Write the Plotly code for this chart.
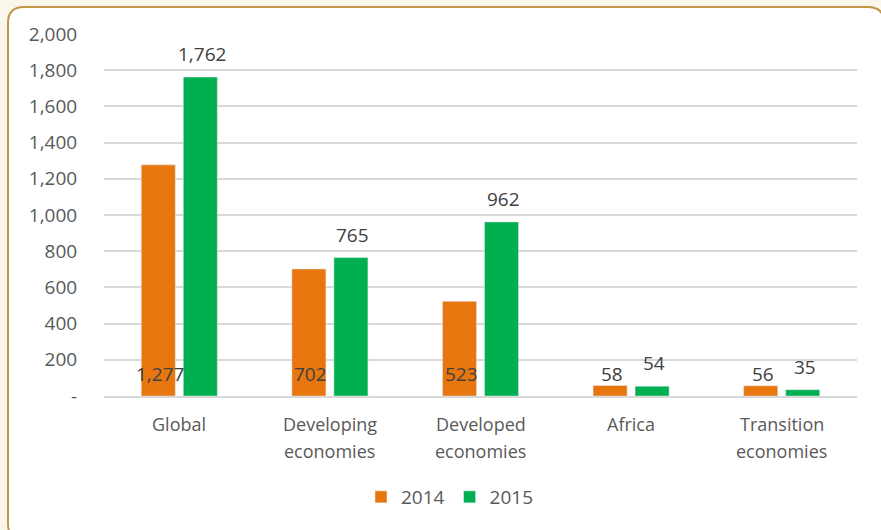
import plotly.graph_objects as go

categories = ["Global", "Developing economies", "Developed economies", "Africa", "Transition economies"]
label_lines = [["Global"], ["Developing", "economies"], ["Developed", "economies"], ["Africa"], ["Transition", "economies"]]
values_2014 = [1277, 702, 523, 58, 56]
values_2015 = [1762, 765, 962, 54, 35]
tick_vals = [0, 200, 400, 600, 800, 1000, 1200, 1400, 1600, 1800, 2000]
tick_text = ["-", "200", "400", "600", "800", "1,000", "1,200", "1,400", "1,600", "1,800", "2,000"]

ORANGE = "#E8760F"
GREEN = "#00B050"
FONT = "Open Sans"

W, H = 881, 530
ML, MR, MT, MB = 104, 24, 34, 134
PW = W - ML - MR
PH = H - MT - MB


def px(x):
    return (x - ML) / PW


def py(y):
    return (H - MB - y) / PH


fig = go.Figure()
fig.add_trace(go.Bar(x=categories, y=values_2014, name="2014", marker_color=ORANGE))
fig.add_trace(go.Bar(x=categories, y=values_2015, name="2015", marker_color=GREEN))

annotations = []
for c, v in zip(categories, values_2014):
    annotations.append(dict(x=c, y=0, xref="x", yref="y", text=f"{v:,}", showarrow=False,
                            xshift=-19, yshift=22, yanchor="middle",
                            font=dict(family=FONT, size=19, color="#404040")))
for c, v in zip(categories, values_2015):
    annotations.append(dict(x=c, y=v, xref="x", yref="y", text=f"{v:,}", showarrow=False,
                            xshift=23, yshift=23, yanchor="middle",
                            font=dict(family=FONT, size=19, color="#404040")))
for c, lines in zip(categories, label_lines):
    for i, line in enumerate(lines):
        annotations.append(dict(x=c, y=0, xref="x", yref="y", text=line, showarrow=False,
                                yshift=-28 - 27 * i, yanchor="middle",
                                font=dict(family=FONT, size=18, color="#595959")))

# rounded white panel with golden border
x0, y0, x1, y1, r = 8, 7, 884, 540, 16
path = (f"M {px(x0 + r)} {py(y0)} L {px(x1 - r)} {py(y0)} "
        f"Q {px(x1)} {py(y0)} {px(x1)} {py(y0 + r)} "
        f"L {px(x1)} {py(y1 - r)} Q {px(x1)} {py(y1)} {px(x1 - r)} {py(y1)} "
        f"L {px(x0 + r)} {py(y1)} Q {px(x0)} {py(y1)} {px(x0)} {py(y1 - r)} "
        f"L {px(x0)} {py(y0 + r)} Q {px(x0)} {py(y0)} {px(x0 + r)} {py(y0)} Z")

fig.update_layout(
    width=W, height=H,
    margin=dict(l=ML, r=MR, t=MT, b=MB, pad=0),
    paper_bgcolor="#FBF6EC",
    plot_bgcolor="rgba(0,0,0,0)",
    barmode="group",
    bargap=0.442,
    bargroupgap=0.19,
    font=dict(family=FONT, size=18, color="#595959"),
    showlegend=True,
    legend=dict(orientation="h", x=px(450), y=py(497), xanchor="center", yanchor="middle",
                font=dict(family=FONT, size=19, color="#595959"), itemwidth=30,
                traceorder="normal", bgcolor="rgba(0,0,0,0)"),
    shapes=[dict(type="path", path=path, xref="paper", yref="paper", layer="below",
                 fillcolor="white", line=dict(color="#C4964A", width=2))],
    annotations=annotations,
)
fig.update_yaxes(range=[0, 2000], tickvals=tick_vals, ticktext=tick_text,
                 showgrid=True, gridcolor="#D9D9D9", gridwidth=2, zeroline=False,
                 ticks="outside", ticklen=22, tickcolor="rgba(0,0,0,0)",
                 tickfont=dict(family=FONT, size=19, color="#595959"))
fig.update_xaxes(showline=True, linecolor="#D9D9D9", linewidth=2, showticklabels=False)

fig.write_html("out.html", config={"displayModeBar": False},
               post_script="document.body.style.margin='0';document.body.style.background='#FBF6EC';")
